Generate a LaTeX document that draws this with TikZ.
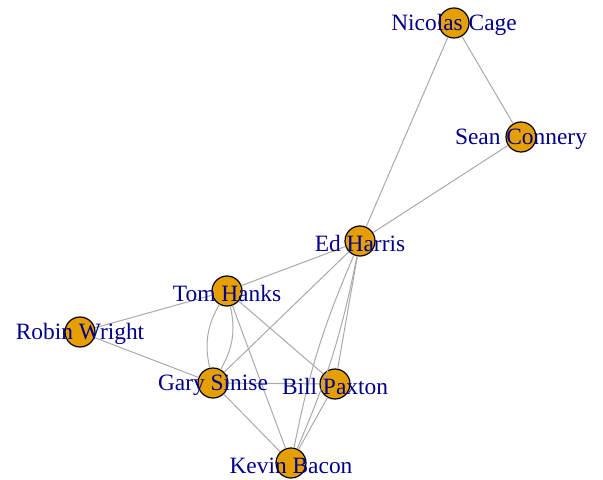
\documentclass[tikz,border=0pt]{standalone}
\usepackage{fontspec}
\setmainfont{Liberation Serif}
\usetikzlibrary{positioning}
\definecolor{vorange}{RGB}{230,159,0}
\definecolor{lblue}{RGB}{0,0,139}
\definecolor{egray}{RGB}{169,169,169}
\tikzstyle{actor} = [circle, draw=black, line width=0.6pt, fill=vorange, minimum size=15pt, inner sep=0pt]
\tikzstyle{actorlabel} = [text=lblue, inner sep=0pt, yshift=-1.2pt, font=\fontsize{11.7}{12}\selectfont]
\tikzstyle{tie} = [egray, line width=0.5pt]

\begin{document}
\begin{tikzpicture}[x=0.5pt,y=-0.5pt]
\useasboundingbox (0,0) rectangle (603,480);

% vertices
\foreach \id/\x/\y in {cage/454/23,connery/521/137,harris/360/241,hanks/227/291,
	wright/80/332,sinise/213/383,paxton/335/384,bacon/291/463}{
	\node[actor] (\id) at (\x,\y) {};
}

% edges
\draw[tie] (cage) -- (connery);
\draw[tie] (cage) -- (harris);
\draw[tie] (connery) -- (harris);
\draw[tie] (harris) -- (hanks);
\draw[tie] (harris) -- (sinise);
\draw[tie] (harris) -- (paxton);
\draw[tie] (harris) to[bend left=6] (bacon);
\draw[tie] (harris) to[bend right=6] (bacon);
\draw[tie] (hanks) -- (wright);
\draw[tie] (hanks) to[bend left=21] (sinise);
\draw[tie] (hanks) to[bend right=21] (sinise);
\draw[tie] (hanks) -- (paxton);
\draw[tie] (hanks) -- (bacon);
\draw[tie] (wright) -- (sinise);
\draw[tie] (sinise) -- (paxton);
\draw[tie] (sinise) -- (bacon);
\draw[tie] (paxton) -- (bacon);

% labels on top
\foreach \id/\txt in {cage/Nicolas Cage,connery/Sean Connery,harris/Ed Harris,
	hanks/Tom Hanks,wright/Robin Wright,sinise/Gary Sinise,paxton/Bill Paxton,bacon/Kevin Bacon}{
	\node[actorlabel] (\id-lbl) at (\id) {\txt};
}
\end{tikzpicture}
\end{document}
